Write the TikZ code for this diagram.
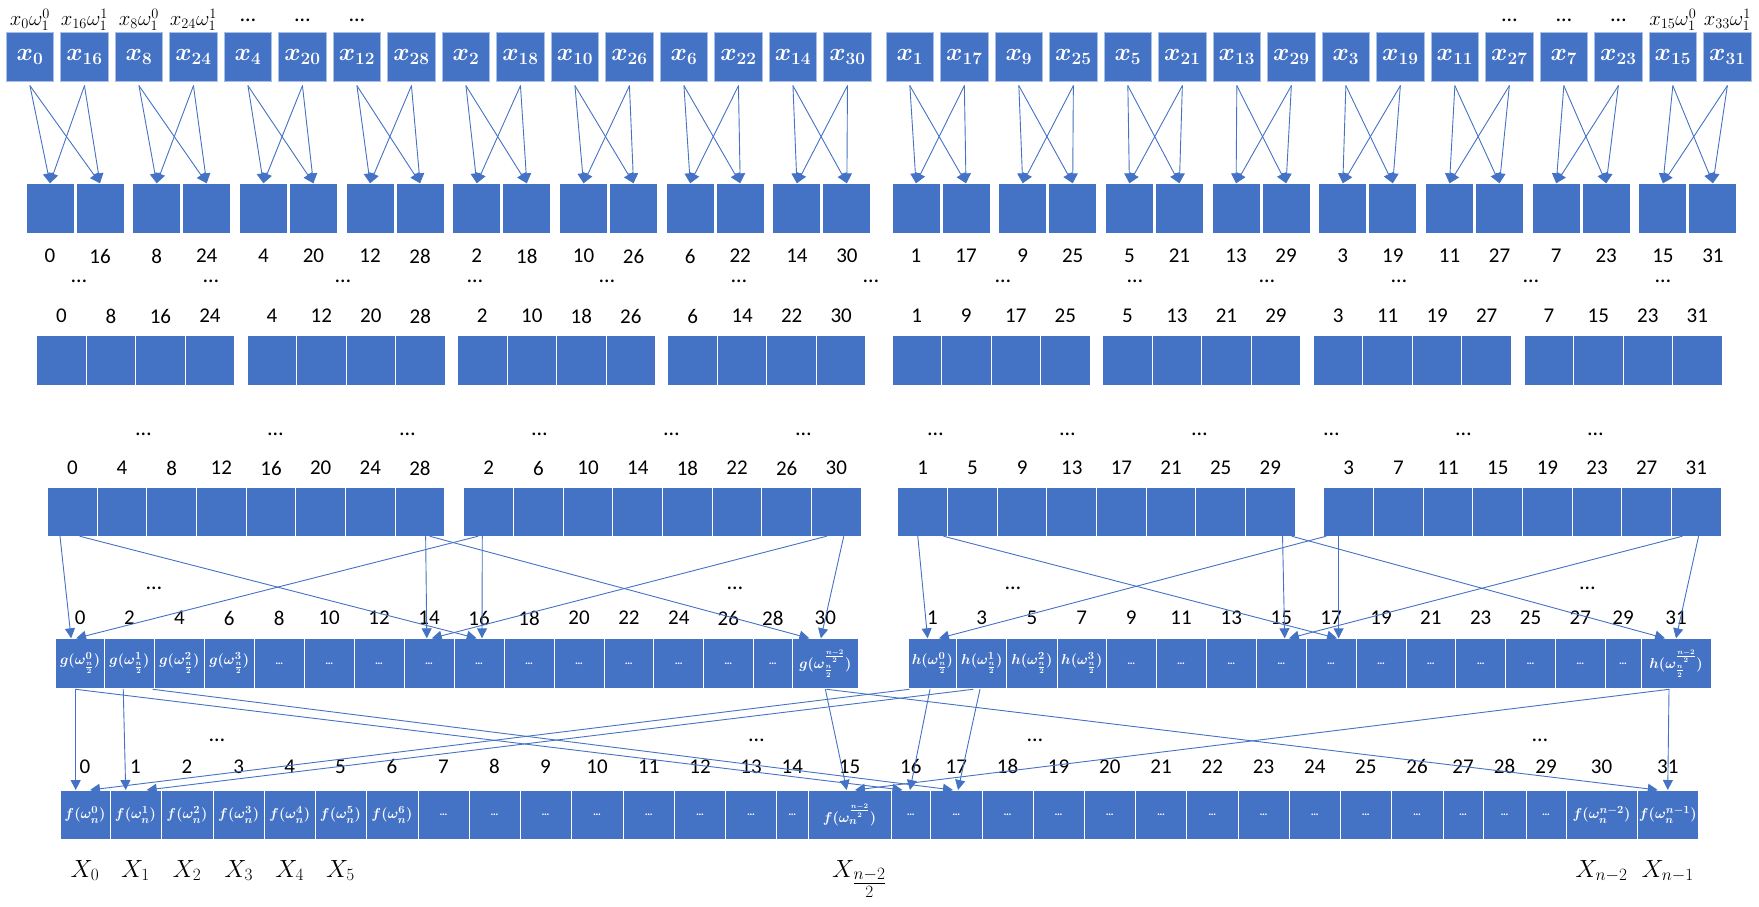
\documentclass[tikz,border=0pt]{standalone}
\usepackage[no-math]{fontspec}
\usepackage{amsmath}
\usetikzlibrary{arrows.meta,calc}
\newfontfamily\numfont{Carlito}
\definecolor{cellblue}{HTML}{4472C4}
\definecolor{celledge}{HTML}{A9BFE6}
\newcommand{\celldots}{{\numfont\bfseries\fontsize{11}{12}\selectfont …}}

\tikzset{
  cell/.style={fill=cellblue,draw=white,line width=1pt,inner sep=0pt,outer sep=0pt,text=white,minimum height=49.3pt},
  topcell/.style={cell,draw=celledge,line width=0.8pt,minimum width=47.7pt,minimum height=49.4pt,font=\fontsize{26}{28}\selectfont\boldmath},
  fcell/.style={cell,font=\fontsize{15}{17}\selectfont\boldmath},
  num/.style={font=\numfont\fontsize{21}{24}\selectfont,inner sep=0pt},
  ellip/.style={font=\numfont\fontsize{22}{24}\selectfont,inner sep=0pt},
  toplabel/.style={font=\fontsize{20}{22}\selectfont,inner sep=0pt},
  outlabel/.style={font=\fontsize{25}{27}\selectfont,inner sep=0pt,anchor=base},
  link/.style={cellblue,line width=0.9pt,-{Triangle[width=10pt,length=10pt]}},
}

\begin{document}
\begin{tikzpicture}[x=1pt,y=-1pt,line cap=round,line join=round]
\useasboundingbox (0,0) rectangle (1759,906);

% inputs in bit-reversed order
\foreach \v [count=\i from 0] in {0,16,8,24,4,20,12,28,2,18,10,26,6,22,14,30,1,17,9,25,5,21,13,29,3,19,11,27,7,23,15,31}{
  \pgfmathsetmacro\cx{\i<16 ? 29.95+54.5*\i : 909.85+54.5*(\i-16)}
  \node[topcell] (t\i) at (\cx,57) {$x_{\v}$};
}
\foreach \k/\txt in {0/{x_0\omega_1^0},1/{x_{16}\omega_1^1},2/{x_8\omega_1^0},3/{x_{24}\omega_1^1},30/{x_{15}\omega_1^0},31/{x_{33}\omega_1^1}}
  \node[toplabel] (w\k) at ($(t\k.north)+(0,-12.3)$) {$\txt$};
\foreach \k in {4,5,6,27,28,29}
  \node[ellip] (e\k) at ($(t\k.north)+(0,-11.8)$) {…};

% first butterflies: pairs
\foreach \v [count=\i from 0] in {0,16,8,24,4,20,12,28,2,18,10,26,6,22,14,30,1,17,9,25,5,21,13,29,3,19,11,27,7,23,15,31}{
  \pgfmathsetmacro\cx{(\i<16 ? 26+106.7*floor(\i/2) : 892+106.7*floor((\i-16)/2))+50*mod(\i,2)+24}
  \node[cell,minimum width=48pt,minimum height=50pt] (s\i) at (\cx,208.3) {};
  \node[num] (sl\i) at ($(s\i.south)+(0,22.7)$) {\v};
}
\foreach \p in {0,...,15}{
  \pgfmathtruncatemacro\a{2*\p}
  \pgfmathtruncatemacro\b{2*\p+1}
  \foreach \u in {\a,\b}{\foreach \w in {\a,\b}{
    \draw[link] ([yshift=-4pt]t\u.south) -- (s\w.north);
  }}
}
\foreach \k in {0,...,12}
  \node[ellip] (d\k) at ({79+132*\k},281.7) {…};

% groups of four
\foreach \gs/\vs [count=\k from 0] in {36.7/0,247.1/4,457.5/2,667.9/6,892/1,1102.7/5,1313.4/3,1524.1/7}{
  \foreach \j in {0,...,3}{
    \pgfmathtruncatemacro\n{4*\k+\j}
    \pgfmathtruncatemacro\v{\vs+8*\j}
    \node[cell,minimum width=49.5pt] (r\n) at ({\gs+49.5*\j+24.75},360.35) {};
    \node[num] (rl\n) at ($(r\n.north)+(0,-19.7)$) {\v};
  }
}
\foreach \k in {0,...,11}
  \node[ellip] (c\k) at ({143.5+132*\k},434) {…};

% groups of eight
\foreach \gs/\vs [count=\k from 0] in {47.6/0,464/2,898/1,1324/3}{
  \foreach \j in {0,...,7}{
    \pgfmathtruncatemacro\n{8*\k+\j}
    \pgfmathtruncatemacro\v{\vs+4*\j}
    \node[cell,minimum width=49.65pt] (q\n) at ({\gs+49.65*\j+24.8},511.65) {};
    \node[num] (ql\n) at ($(q\n.north)+(0,-19)$) {\v};
  }
}

% even part g and odd part h
\foreach \l/\r [count=\i from 0] in {55.7/104.5,104.5/154.4,154.4/204.3,204.3/254.3,254.3/304.2,304.2/354.2,354.2/404,404/454,454/504,504/554,554/604,604/653.8,653.8/703.7,703.7/753,753/792.7,792.7/858}{
  \pgfmathsetmacro\w{\r-\l}
  \pgfmathtruncatemacro\v{2*\i}
  \node[fcell,minimum width=\w pt,minimum height=50pt] (g\i) at ({(\l+\r)/2},663.3)
    {\ifnum\i<4 $g(\omega^{\i}_{\frac{n}{2}})$\else\ifnum\i=15 $g(\omega^{\frac{n-2}{2}}_{\frac{n}{2}})$\else\celldots\fi\fi};
  \node[num] (gl\i) at ($(g\i.north)+(0,-20.3)$) {\v};
}
\foreach \l/\r [count=\i from 0] in {908/956.8,956.8/1006.7,1006.7/1057,1057/1106.5,1106.5/1156,1156/1206,1206/1256.7,1256.7/1306,1306/1356,1356/1406,1406/1455.7,1455.7/1505.6,1505.6/1555.5,1555.5/1605,1605/1641,1641/1711}{
  \pgfmathsetmacro\w{\r-\l}
  \pgfmathtruncatemacro\v{2*\i+1}
  \node[fcell,minimum width=\w pt,minimum height=50pt] (h\i) at ({(\l+\r)/2},663.3)
    {\ifnum\i<4 $h(\omega^{\i}_{\frac{n}{2}})$\else\ifnum\i=15 $h(\omega^{\frac{n-2}{2}}_{\frac{n}{2}})$\else\celldots\fi\fi};
  \node[num] (hl\i) at ($(h\i.north)+(0,-20.3)$) {\v};
}
\foreach \x [count=\k] in {154,735,1013,1587.5}
  \node[ellip] (b\k) at (\x,588.7) {…};
\foreach \s/\ds/\e/\de in {q0/-12.4/g0/-9,q0/7.6/g8/-2.3,q8/-11/g0/-4,q8/-6.5/g8/3,
  q7/5.7/g7/-2.2,q7/10/g15/-16,q15/-10/g7/2.8,q15/7.4/g15/-4.5,
  q16/-5/h0/-4.8,q16/21/h8/6,q24/-23/h0/6.6,q24/-10.2/h8/7.6,
  q23/12.2/h7/3.3,q23/21.7/h15/-11,q31/-14.3/h7/7.6,q31/2.2/h15/0}
  \draw[link] ([xshift=\ds pt]\s.south) -- ([xshift=\de pt]\e.north);

% output
\foreach \l/\r [count=\i from 0] in {60/110,110/161,161/213,213/264.5,264.5/315,315/366,366/418,418/469,469/520,520/571,571/623,623/674.5,674.5/725.5,725.5/776.5,776.5/808,808/891,891/930.5,930.5/982,982/1033,1033/1084,1084/1135.5,1135.5/1186.5,1186.5/1238,1238/1289,1289/1340.5,1340.5/1391,1391/1443,1443/1483,1483/1526,1526/1566,1566/1637,1637/1698.5}{
  \pgfmathsetmacro\w{\r-\l}
  \node[fcell,minimum width=\w pt] (f\i) at ({(\l+\r)/2},814.65)
    {\ifnum\i<7 $f(\omega_n^{\i})$\else\ifnum\i=15 $f(\omega_n^{\frac{n-2}{2}})$\else\ifnum\i=30 $f(\omega_n^{n-2})$\else\ifnum\i=31 $f(\omega_n^{n-1})$\else\celldots\fi\fi\fi\fi};
  \node[num] (fl\i) at ($(f\i.north)+(0,-23.3)$) {\i};
}
\foreach \x [count=\k] in {217,756.5,1035,1540}
  \node[ellip] (a\k) at (\x,740.5) {…};
\foreach \s/\ds/\e/\de in {g0/-4.4/f0/-9.3,g0/-4.4/f16/-8.3,h0/-23.4/f0/5,h0/-2.4/f16/-0.8,
  g1/-6.2/f1/-9.8,g1/23.5/f17/-3.3,h1/-8.8/f1/11.2,h1/-1.8/f17/1.8,
  g15/0/f15/-2.8,g15/1.4/f31/-10,h15/-7/f15/5.5,h15/-7/f31/0}
  \draw[link] ([xshift=\ds pt,yshift=-1pt]\s.south) -- ([xshift=\de pt]\e.north);

\foreach \k in {0,...,5}
  \node[outlabel] (X\k) at ($(f\k.south)+(0,37.7)$) {$X_{\k}$};
\node[outlabel] (Xm) at ($(f15.south)+(10,37.7)$) {$X_{\tfrac{n-2}{2}}$};
\node[outlabel] (Xa) at ($(f30.south)+(0,37.7)$) {$X_{n-2}$};
\node[outlabel] (Xb) at ($(f31.south)+(0,37.7)$) {$X_{n-1}$};
\end{tikzpicture}
\end{document}
